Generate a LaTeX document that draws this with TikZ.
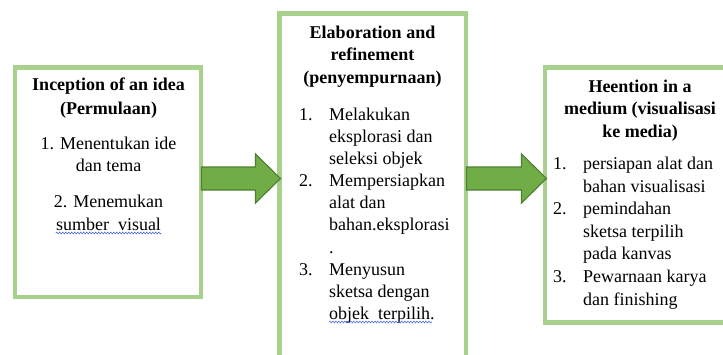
\documentclass[tikz,border=0pt]{standalone}
\usepackage{fontspec}
\setmainfont{Liberation Serif}
\usetikzlibrary{calc,decorations.pathmorphing}
\definecolor{boxgreen}{HTML}{A9D18E}
\definecolor{arrfill}{HTML}{70AD47}
\definecolor{arrline}{HTML}{507E32}
\definecolor{wavyblue}{HTML}{4F6FE0}
\tikzset{
  frame/.style={draw=boxgreen, line width=4.5pt, fill=white, rectangle, inner sep=0pt},
  txt/.style={inner sep=0pt, font=\fontsize{18}{22}\selectfont},
  hd/.style={txt, anchor=base, font=\fontsize{18}{22}\selectfont\bfseries},
  ctr/.style={txt, anchor=base},
  lft/.style={txt, anchor=base west},
  blockarrow/.style={fill=arrfill, draw=arrline, line width=1.1pt, line join=miter},
  wavy/.style={draw=wavyblue, line width=0.6pt, decorate, decoration={snake, amplitude=0.9pt, segment length=3pt}}
}
\newcommand\blockarr[2]{%
  \draw[blockarrow] ($(#1)+(0,-11.5)$) -- ($(#2)+(-25,-11.5)$) -- ($(#2)+(-25,-24.5)$)
    -- (#2) -- ($(#2)+(-25,24.5)$) -- ($(#2)+(-25,11.5)$) -- ($(#1)+(0,11.5)$) -- cycle;}
\begin{document}
\begin{tikzpicture}[x=1pt,y=-1pt]
\useasboundingbox (0,0) rectangle (723,354);
\clip (0,0) rectangle (723,354);
\fill[white] (0,0) rectangle (723,354);

% boxes
\node[frame, minimum width=186pt, minimum height=229.5pt] (box1) at (108,182) {};
\node[frame, minimum width=186.5pt, minimum height=356.5pt] (box2) at (372.5,191.75) {};
\node[frame, minimum width=191pt, minimum height=255pt] (box3) at (640.5,195) {};

% arrows
\coordinate (a1s) at (201.5,178.5);
\coordinate (a1t) at (280.5,178.5);
\coordinate (a2s) at (466.5,178.5);
\coordinate (a2t) at (546.5,178.5);
\blockarr{a1s}{a1t}
\blockarr{a2s}{a2t}

% box 1 text
\node[hd] (b1h1) at (108.5,90) {Inception of an idea};
\node[hd] (b1h2) at (108.5,114) {(Permulaan)};
\node[ctr] (b1a) at (108.5,149.5) {1. Menentukan ide};
\node[ctr] (b1b) at (108.5,171) {dan tema};
\node[ctr] (b1c) at (108.5,207.5) {2. Menemukan};
\node[ctr] (b1d) at (108.5,230) {sumber\ \ visual};
\draw[wavy] ($(b1d.base west)+(0,3)$) -- ($(b1d.base east)+(0,3)$);

% box 2 text
\node[hd] (b2h1) at (372.5,38) {Elaboration and};
\node[hd] (b2h2) at (372.5,60.5) {refinement};
\node[hd] (b2h3) at (372.5,83) {(penyempurnaan)};
\node[lft] (b2n1) at (299,120) {1.};
\node[lft] (b2t1) at (329,120) {Melakukan};
\node[lft] (b2t2) at (329,142) {eksplorasi dan};
\node[lft] (b2t3) at (329,164) {seleksi objek};
\node[lft] (b2n2) at (299,186) {2.};
\node[lft] (b2t4) at (329,186) {Mempersiapkan};
\node[lft] (b2t5) at (329,208) {alat dan};
\node[lft] (b2t6) at (329,230) {bahan.eksplorasi};
\node[lft] (b2t7) at (329,253) {.};
\node[lft] (b2n3) at (299,275) {3.};
\node[lft] (b2t8) at (329,275) {Menyusun};
\node[lft] (b2t9) at (329,297) {sketsa dengan};
\node[lft] (b2t10) at (329,319) {objek\ \ terpilih.};
\draw[wavy] ($(b2t10.base west)+(0,3)$) -- ($(b2t10.base east)+(-3,3)$);

% box 3 text
\node[hd] (b3h1) at (640,92) {Heention in a};
\node[hd] (b3h2) at (640,114.5) {medium (visualisasi};
\node[hd] (b3h3) at (640,137) {ke media)};
\node[lft] (b3n1) at (553,169.5) {1.};
\node[lft] (b3t1) at (583,169.5) {persiapan alat dan};
\node[lft] (b3t2) at (583,192) {bahan visualisasi};
\node[lft] (b3n2) at (553,214.5) {2.};
\node[lft] (b3t3) at (583,214.5) {pemindahan};
\node[lft] (b3t4) at (583,237) {sketsa terpilih};
\node[lft] (b3t5) at (583,259.5) {pada kanvas};
\node[lft] (b3n3) at (553,282.5) {3.};
\node[lft] (b3t6) at (583,282.5) {Pewarnaan karya};
\node[lft] (b3t7) at (583,305) {dan finishing};
\end{tikzpicture}
\end{document}
